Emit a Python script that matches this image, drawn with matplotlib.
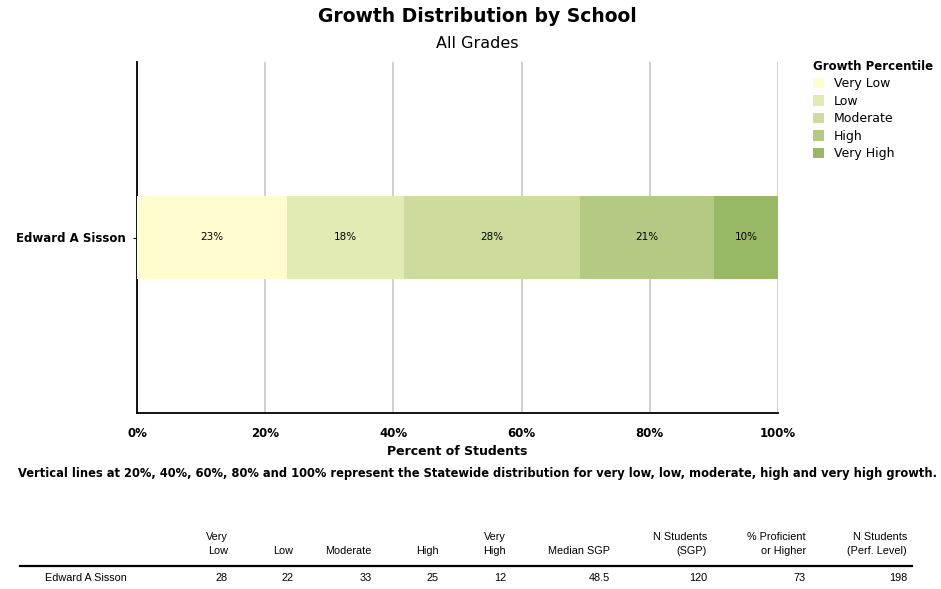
import matplotlib
matplotlib.use('Agg')
import matplotlib.pyplot as plt
from matplotlib.patches import Patch

plt.rcParams['font.family'] = ['DejaVu Sans']

# Data
school = 'Edward A Sisson'
levels = ['Very Low', 'Low', 'Moderate', 'High', 'Very High']
counts = [28, 22, 33, 25, 12]
colors = ['#FFFDD0', '#E2EBB4', '#CDDC9C', '#B4CA84', '#98B866']
median_sgp = 48.5
n_sgp = 120
pct_prof = 73
n_perf = 198
col_headers = ['Very\nLow', 'Low', 'Moderate', 'High', 'Very\nHigh', 'Median SGP',
               'N Students\n(SGP)', '% Proficient\nor Higher', 'N Students\n(Perf. Level)']

W, H = 941, 589
fig = plt.figure(figsize=(W / 100, H / 100), dpi=100)

def fx(x):
    return x / W

def fy(y):
    return 1 - y / H

ax = fig.add_axes([fx(137), fy(413), fx(778) - fx(137), fy(62) - fy(413)])

total = sum(counts)
pcts = [c / total * 100 for c in counts]
left = 0
for p, c, lab in zip(pcts, colors, levels):
    ax.barh(0, p, left=left, height=0.234, color=c, label=lab, zorder=3)
    ax.text(left + p / 2, 0, '{:.0f}%'.format(p), ha='center', va='center',
            fontsize=7.5, zorder=4)
    left += p

ax.set_xlim(0, 100)
ax.set_ylim(-0.5, 0.5)
ax.set_xticks([0, 20, 40, 60, 80, 100])
ax.set_xticklabels(['0%', '20%', '40%', '60%', '80%', '100%'], fontsize=8.5, fontweight='bold')
ax.set_yticks([0])
ax.set_yticklabels([school], fontsize=8.5, fontweight='bold')
ax.tick_params(axis='x', length=0, pad=10)
ax.tick_params(axis='y', length=3, pad=5)
ax.grid(axis='x', color='#C8C8C8', linewidth=1.2, zorder=1)
ax.spines['top'].set_visible(False)
ax.spines['right'].set_visible(False)
ax.spines['left'].set_linewidth(1.3)
ax.spines['bottom'].set_linewidth(1.3)
ax.set_xlabel('Percent of Students', fontsize=9, fontweight='bold', labelpad=4)

fig.text(fx(477), fy(17), 'Growth Distribution by School', ha='center', va='center',
         fontsize=13.5, fontweight='bold')
fig.text(fx(477), fy(44), 'All Grades', ha='center', va='center', fontsize=11.5)

handles = [Patch(facecolor=c, edgecolor='none', label=l) for c, l in zip(colors, levels)]
leg = fig.legend(handles=handles, title='Growth Percentile', loc='upper left',
                 bbox_to_anchor=(fx(804), fy(51)), frameon=False, fontsize=9,
                 title_fontproperties={'weight': 'bold', 'size': 8.5},
                 handlelength=0.9, handleheight=0.9, handletextpad=0.8,
                 labelspacing=0.36, borderpad=0.2)
leg._legend_box.align = 'left'

fig.text(fx(477), fy(474), 'Vertical lines at 20%, 40%, 60%, 80% and 100% represent the Statewide '
         'distribution for very low, low, moderate, high and very high growth.',
         ha='center', va='center', fontsize=8.3, fontweight='bold')

# table under the chart
col_x = [228, 293, 372, 439, 506, 610, 707, 806, 907]
row_vals = counts + [median_sgp, n_sgp, pct_prof, n_perf]
tfont = ['Liberation Sans', 'DejaVu Sans']
for x, h in zip(col_x, col_headers):
    fig.text(fx(x), fy(556), h, ha='right', va='bottom', fontsize=7.8, linespacing=1.45,
             family=tfont)
for x, v in zip(col_x, row_vals):
    fig.text(fx(x), fy(578), str(v), ha='right', va='center', fontsize=7.8, family=tfont)
fig.text(fx(45), fy(578), school, ha='left', va='center', fontsize=7.8, family=tfont)
fig.add_artist(plt.Line2D([fx(20), fx(912)], [fy(566), fy(566)], color='black', linewidth=1.6))

fig.savefig('out.png', dpi=100)
